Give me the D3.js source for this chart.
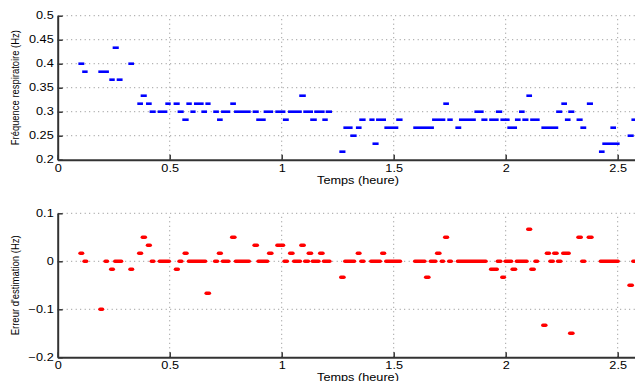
<!DOCTYPE html>
<html>
<head>
<meta charset="utf-8">
<script src="https://cdn.jsdelivr.net/npm/d3@7"></script>
<style>
  body { margin: 0; background: #fff; }
  svg { display: block; font-family: "Liberation Sans", Arial, sans-serif; }
  .grid line { stroke: #8c8c8c; stroke-width: 1; stroke-dasharray: 1, 3.5; }
  .axis path { stroke: #333; stroke-width: 2; }
  .axis line { stroke: #333; stroke-width: 1.5; }
  .axis text { font-size: 10px; fill: #000; }
</style>
</head>
<body>
<div id="chart"></div>
<script>
// Temps (heure) : [début, fin, fréquence estimée (Hz)]
const freqRuns = [
  [0.091, 0.120, 0.4000], [0.108, 0.135, 0.3833], [0.180, 0.230, 0.3833], [0.229, 0.256, 0.3667],
  [0.244, 0.274, 0.4333], [0.262, 0.291, 0.3667], [0.314, 0.342, 0.4000], [0.354, 0.382, 0.3167],
  [0.369, 0.399, 0.3333], [0.393, 0.421, 0.3167], [0.409, 0.439, 0.3000], [0.445, 0.491, 0.3000],
  [0.479, 0.506, 0.3167], [0.516, 0.546, 0.3167], [0.534, 0.564, 0.3000], [0.555, 0.586, 0.2833],
  [0.573, 0.600, 0.3167], [0.591, 0.617, 0.3000], [0.607, 0.653, 0.3167], [0.640, 0.668, 0.3000],
  [0.658, 0.684, 0.3167], [0.693, 0.721, 0.3000], [0.710, 0.738, 0.2833], [0.728, 0.772, 0.3000],
  [0.769, 0.797, 0.3167], [0.786, 0.863, 0.3000], [0.869, 0.899, 0.3000], [0.885, 0.930, 0.2833],
  [0.918, 0.963, 0.3000], [0.970, 1.018, 0.3000], [1.004, 1.033, 0.2833], [1.027, 1.091, 0.3000],
  [1.077, 1.109, 0.3333], [1.095, 1.141, 0.3000], [1.126, 1.158, 0.2833], [1.144, 1.193, 0.3000],
  [1.180, 1.207, 0.2833], [1.195, 1.226, 0.3000], [1.256, 1.286, 0.2167], [1.274, 1.318, 0.2667],
  [1.305, 1.336, 0.2500], [1.330, 1.358, 0.2667], [1.345, 1.376, 0.2833], [1.390, 1.416, 0.2833],
  [1.404, 1.434, 0.2333], [1.420, 1.467, 0.2833], [1.457, 1.522, 0.2667], [1.510, 1.541, 0.2833],
  [1.586, 1.681, 0.2667], [1.670, 1.732, 0.2833], [1.720, 1.748, 0.3167], [1.738, 1.765, 0.2833],
  [1.774, 1.803, 0.2667], [1.790, 1.868, 0.2833], [1.859, 1.903, 0.3000], [1.890, 1.920, 0.2833],
  [1.925, 1.970, 0.2833], [1.955, 1.986, 0.3000], [1.975, 2.019, 0.2833], [2.006, 2.052, 0.2667],
  [2.040, 2.068, 0.2833], [2.058, 2.086, 0.3000], [2.073, 2.103, 0.2833], [2.091, 2.119, 0.3333],
  [2.108, 2.153, 0.2833], [2.158, 2.236, 0.2667], [2.224, 2.254, 0.3000], [2.247, 2.275, 0.3167],
  [2.263, 2.291, 0.2833], [2.278, 2.308, 0.3000], [2.315, 2.345, 0.2833], [2.332, 2.361, 0.2667],
  [2.361, 2.391, 0.3167], [2.415, 2.443, 0.2167], [2.430, 2.510, 0.2333], [2.466, 2.494, 0.2667],
  [2.543, 2.573, 0.2500], [2.560, 2.600, 0.2833]
];

// Temps (heure) : [début, fin, erreur d'estimation (Hz)]
const errRuns = [
  [0.092, 0.119, 0.0167], [0.110, 0.137, 0], [0.181, 0.208, -0.1000], [0.204, 0.230, 0],
  [0.229, 0.256, -0.0167], [0.247, 0.293, 0], [0.315, 0.342, -0.0167], [0.354, 0.382, 0.0167],
  [0.370, 0.399, 0.0500], [0.393, 0.421, 0.0333], [0.410, 0.437, 0], [0.446, 0.506, 0],
  [0.518, 0.546, -0.0167], [0.534, 0.562, 0], [0.557, 0.585, 0.0167], [0.576, 0.668, 0],
  [0.655, 0.685, -0.0667], [0.693, 0.721, 0], [0.710, 0.738, 0.0167], [0.728, 0.772, 0],
  [0.769, 0.799, 0.0500], [0.786, 0.863, 0], [0.869, 0.899, 0.0333], [0.887, 0.945, 0],
  [0.934, 0.964, 0.0167], [0.971, 1.016, 0.0333], [1.003, 1.033, 0], [1.028, 1.058, 0.0167],
  [1.046, 1.091, 0], [1.078, 1.108, 0.0333], [1.095, 1.127, 0], [1.111, 1.141, 0.0167],
  [1.129, 1.174, 0], [1.162, 1.192, 0.0167], [1.179, 1.223, 0], [1.256, 1.286, -0.0333],
  [1.274, 1.333, 0], [1.330, 1.357, 0.0167], [1.346, 1.375, 0], [1.390, 1.448, 0],
  [1.439, 1.467, 0.0167], [1.457, 1.538, 0], [1.586, 1.647, 0], [1.635, 1.665, -0.0333],
  [1.656, 1.696, 0], [1.684, 1.714, 0.0167], [1.705, 1.730, 0], [1.720, 1.748, 0.0500],
  [1.738, 1.765, 0], [1.777, 1.920, 0], [1.925, 1.970, -0.0167], [1.955, 1.986, 0],
  [1.975, 2.002, -0.0333], [1.990, 2.034, 0], [2.021, 2.052, -0.0167], [2.040, 2.103, 0],
  [2.091, 2.119, 0.0667], [2.105, 2.135, -0.0167], [2.123, 2.150, 0], [2.158, 2.187, -0.1333],
  [2.174, 2.203, 0.0167], [2.190, 2.220, 0], [2.207, 2.237, 0.0167], [2.224, 2.254, 0],
  [2.247, 2.291, 0.0167], [2.278, 2.308, -0.1500], [2.315, 2.345, 0.0500], [2.332, 2.361, 0],
  [2.361, 2.393, 0.0500], [2.415, 2.510, 0], [2.543, 2.573, -0.0500], [2.560, 2.600, 0]
];

const timeTicks = [0, 0.5, 1, 1.5, 2, 2.5];
const timeTickLabels = ['0', '0.5', '1', '1.5', '2', '2.5'];
const freqTicks = [0.2, 0.25, 0.3, 0.35, 0.4, 0.45, 0.5];
const freqTickLabels = ['0.2', '0.25', '0.3', '0.35', '0.4', '0.45', '0.5'];
const errTicks = [-0.2, -0.1, 0, 0.1];
const errTickLabels = ['\u22120.2', '\u22120.1', '0', '0.1'];

const width = 635;
const height = 381;
const stretch = 1.27; // le texte horizontal de la figure est étiré

const svg = d3.select('#chart').append('svg')
  .attr('width', width)
  .attr('height', height);

const x = d3.scaleLinear().domain([0, 2.68]).range([57.7, 658]);

function stretchText(sel) {
  sel.each(function () {
    const w = this.getComputedTextLength();
    d3.select(this).attr('textLength', w * stretch).attr('lengthAdjust', 'spacingAndGlyphs');
  });
}

function drawPanel(opts) {
  const y = d3.scaleLinear().domain(opts.domain).range([opts.bottom, opts.top]);
  const g = svg.append('g');

  // grille pointillée
  const grid = g.append('g').attr('class', 'grid');
  grid.selectAll('.gx')
    .data(timeTicks.filter(d => d > 0))
    .enter().append('line')
    .attr('x1', d => x(d)).attr('x2', d => x(d))
    .attr('y1', y(opts.domain[0])).attr('y2', y(opts.domain[1]));
  grid.selectAll('.gy')
    .data(opts.ticks.filter(d => d > opts.domain[0]))
    .enter().append('line')
    .attr('x1', x(0)).attr('x2', width)
    .attr('y1', d => y(d)).attr('y2', d => y(d));

  // tirets des mesures
  g.append('g').selectAll('line')
    .data(opts.runs)
    .enter().append('line')
    .attr('x1', d => x(d[0]) + opts.inset)
    .attr('x2', d => x(d[1]) - opts.inset)
    .attr('y1', d => y(d[2]))
    .attr('y2', d => y(d[2]))
    .style('stroke', opts.color)
    .style('stroke-width', opts.thick)
    .style('stroke-linecap', opts.cap);

  // axe X
  const xAxis = d3.axisBottom(x)
    .tickValues(timeTicks)
    .tickFormat((d, i) => timeTickLabels[i])
    .tickSizeInner(-5).tickSizeOuter(0).tickPadding(5);
  const gx = g.append('g')
    .attr('class', 'axis')
    .attr('transform', `translate(0, ${y(opts.domain[0])})`)
    .call(xAxis);
  gx.selectAll('text').call(stretchText);

  // axe Y
  const yAxis = d3.axisLeft(y)
    .tickValues(opts.ticks)
    .tickFormat((d, i) => opts.tickLabels[i])
    .tickSizeInner(-5).tickSizeOuter(0).tickPadding(4);
  const gy = g.append('g')
    .attr('class', 'axis')
    .attr('transform', `translate(${x(0)}, 0)`)
    .call(yAxis);
  gy.selectAll('text').call(stretchText);

  // titres des axes
  g.append('text')
    .attr('x', 358)
    .attr('y', opts.xLabelY)
    .attr('text-anchor', 'middle')
    .style('font-size', '10px')
    .text('Temps (heure)')
    .call(stretchText);

  g.append('text')
    .attr('transform', `translate(19, ${(opts.top + opts.bottom) / 2}) rotate(-90)`)
    .attr('text-anchor', 'middle')
    .style('font-size', '11px')
    .attr('textLength', opts.yLabelLength)
    .attr('lengthAdjust', 'spacingAndGlyphs')
    .text(opts.yLabel);
}

drawPanel({
  domain: [0.2, 0.5], top: 15.7, bottom: 159.7,
  ticks: freqTicks, tickLabels: freqTickLabels, runs: freqRuns,
  color: '#0000ff', thick: 2.6, cap: 'butt', inset: 0.3,
  xLabelY: 184, yLabel: 'Fréquence respiratoire (Hz)', yLabelLength: 115
});

drawPanel({
  domain: [-0.2, 0.1], top: 213.3, bottom: 357.3,
  ticks: errTicks, tickLabels: errTickLabels, runs: errRuns,
  color: '#ff0000', thick: 3.6, cap: 'round', inset: 1.8,
  xLabelY: 381, yLabel: "Erreur d'estimation (Hz)", yLabelLength: 100
});
</script>
</body>
</html>
